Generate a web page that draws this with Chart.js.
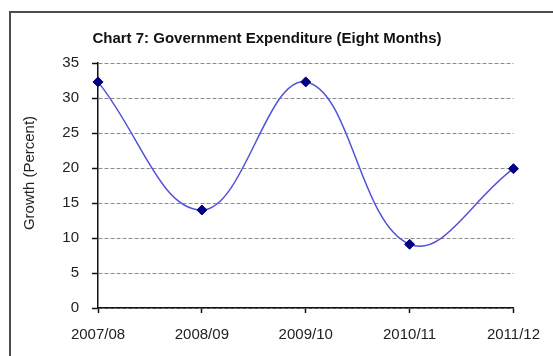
<!DOCTYPE html>
<html>
<head>
<meta charset="utf-8">
<script src="https://cdn.jsdelivr.net/npm/chart.js@4"></script>
<style>
  html, body { margin: 0; padding: 0; background: #fff; }
  #wrap { position: relative; width: 553px; height: 356px; overflow: hidden; }
  #frame { position: absolute; left: 9px; top: 11px; width: 600px; height: 400px; border: 2px solid #4d4d4d; }
  #chart { position: absolute; left: 0; top: 0; }
</style>
</head>
<body>
<div id="wrap">
  <div id="frame"></div>
  <canvas id="chart" width="553" height="356"></canvas>
</div>
<script>
// años fiscales y crecimiento del gasto
var years = ['2007/08', '2008/09', '2009/10', '2010/11', '2011/12'];
var growth = [32.3, 14.0, 32.3, 9.1, 19.9];
var yTicks = [0, 5, 10, 15, 20, 25, 30, 35];
var yTitle = 'Growth (Percent)';

var font = 'Arial, "Liberation Sans", sans-serif';

// título del eje Y, un poco por encima del centro del eje
var yTitlePlugin = {
    id: 'yTitle',
    afterDraw: function(chart) {
        var c = chart.ctx;
        c.save();
        c.translate(30, 173);
        c.rotate(-Math.PI / 2);
        c.font = '15px ' + font;
        c.fillStyle = '#222';
        c.textAlign = 'center';
        c.textBaseline = 'middle';
        c.fillText(yTitle, 0, 0);
        c.restore();
    }
};

var ctx = document.getElementById('chart').getContext('2d');
var chart = new Chart(ctx, {
    type: 'line',
    data: {
        labels: years,
        datasets: [{
            data: growth,
            borderColor: '#5252da',
            borderWidth: 1.5,
            tension: 0.4,
            fill: false,
            pointStyle: 'rectRot',
            pointRadius: 5,
            pointBackgroundColor: '#000080',
            pointBorderColor: '#000080',
            pointBorderWidth: 1
        }]
    },
    options: {
        responsive: false,
        animation: false,
        layout: { padding: { left: 20, right: 39, top: 0, bottom: 0 } },
        plugins: {
            legend: { display: false },
            tooltip: { enabled: false },
            title: {
                display: true,
                text: 'Chart 7: Government Expenditure (Eight Months)',
                color: '#111',
                font: { family: font, size: 15, weight: 'bold', lineHeight: 1.2 },
                padding: { top: 30, bottom: 15 }
            }
        },
        scales: {
            x: {
                offset: false,
                grid: {
                    drawOnChartArea: false,
                    drawTicks: true,
                    tickLength: 5,
                    tickColor: '#111',
                    tickWidth: 1.5
                },
                border: { color: '#111', width: 1.5 },
                ticks: {
                    color: '#222',
                    padding: 13,
                    maxRotation: 0,
                    font: { family: font, size: 15 }
                },
                afterFit: function(scale) { scale.height = 48; }
            },
            y: {
                min: 0,
                max: 35,
                afterBuildTicks: function(scale) {
                    scale.ticks = yTicks.map(function(v) { return { value: v }; });
                },
                grid: {
                    color: '#8c8c8c',
                    lineWidth: 1,
                    drawTicks: true,
                    tickLength: 6,
                    tickColor: '#111',
                    tickWidth: 1.5,
                    tickBorderDash: []
                },
                border: { color: '#111', width: 1.5, dash: [4, 2] },
                ticks: {
                    color: '#222',
                    padding: 13,
                    font: { family: font, size: 15 }
                },
                afterFit: function(scale) { scale.width = 78; }
            }
        }
    },
    plugins: [yTitlePlugin]
});
</script>
</body>
</html>
